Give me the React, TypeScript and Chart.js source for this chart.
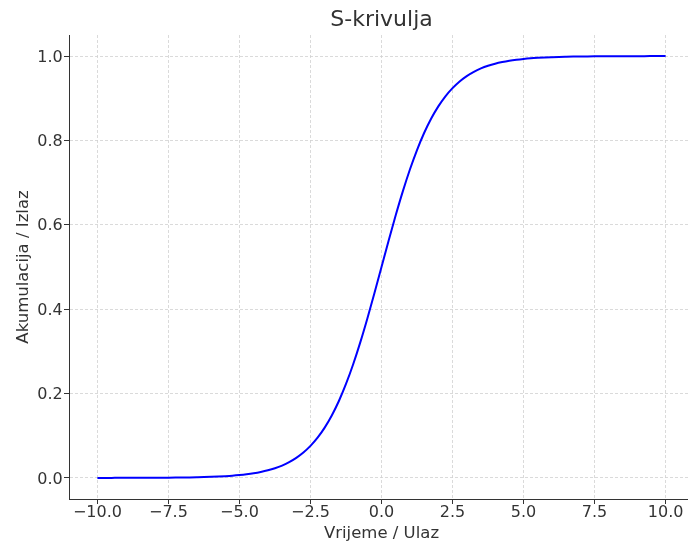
import React, { useEffect, useRef } from "react";
import { Chart, registerables } from "chart.js";

Chart.register(...registerables);

const titleText = "S-krivulja";
const xLabel = "Vrijeme / Ulaz";
const yLabel = "Akumulacija / Izlaz";

const xValues = [
  -10, -9.75, -9.5, -9.25, -9, -8.75, -8.5, -8.25, -8, -7.75, -7.5, -7.25, -7, -6.75, -6.5, -6.25,
  -6, -5.75, -5.5, -5.25, -5, -4.75, -4.5, -4.25, -4, -3.75, -3.5, -3.25, -3, -2.75, -2.5, -2.25,
  -2, -1.75, -1.5, -1.25, -1, -0.75, -0.5, -0.25, 0, 0.25, 0.5, 0.75, 1, 1.25, 1.5, 1.75, 2, 2.25,
  2.5, 2.75, 3, 3.25, 3.5, 3.75, 4, 4.25, 4.5, 4.75, 5, 5.25, 5.5, 5.75, 6, 6.25, 6.5, 6.75, 7,
  7.25, 7.5, 7.75, 8, 8.25, 8.5, 8.75, 9, 9.25, 9.5, 9.75, 10,
];
const yValues = [
  0.00005, 0.00006, 0.00007, 0.0001, 0.00012, 0.00016, 0.0002, 0.00026, 0.00034, 0.00043, 0.00055,
  0.00071, 0.00091, 0.00117, 0.0015, 0.0019, 0.0025, 0.0032, 0.0041, 0.0052, 0.0067, 0.0086, 0.011,
  0.0141, 0.018, 0.023, 0.0293, 0.0373, 0.0474, 0.0601, 0.0759, 0.0953, 0.1192, 0.148, 0.1824,
  0.2227, 0.2689, 0.3208, 0.3775, 0.4378, 0.5, 0.5622, 0.6225, 0.6792, 0.7311, 0.7773, 0.8176,
  0.852, 0.8808, 0.9047, 0.9241, 0.9399, 0.9526, 0.9627, 0.9707, 0.977, 0.982, 0.9859, 0.989,
  0.9914, 0.9933, 0.9948, 0.9959, 0.9968, 0.9975, 0.9981, 0.9985, 0.99883, 0.9991, 0.99929,
  0.99945, 0.99957, 0.99966, 0.99974, 0.9998, 0.99984, 0.99988, 0.9999, 0.99993, 0.99994, 0.99995,
];
const xTicks = [-10, -7.5, -5, -2.5, 0, 2.5, 5, 7.5, 10];
const yTicks = [0, 0.2, 0.4, 0.6, 0.8, 1.0];

const FONT = "'DejaVu Sans', 'Liberation Sans', sans-serif";
const TEXT = "#333333";
const GRID = "#d0d0d0";

export default function App() {
  const ref = useRef<HTMLCanvasElement | null>(null);

  useEffect(() => {
    if (!ref.current) return;
    Chart.defaults.font.family = FONT;
    const points = xValues.map((x, i) => ({ x, y: yValues[i] }));
    const chart = new Chart(ref.current, {
      type: "line",
      data: {
        datasets: [
          {
            data: points,
            borderColor: "#0000ff",
            borderWidth: 2,
            pointRadius: 0,
            fill: false,
            cubicInterpolationMode: "monotone",
          },
        ],
      },
      options: {
        animation: false,
        responsive: true,
        maintainAspectRatio: false,
        layout: { padding: 0 },
        plugins: {
          legend: { display: false },
          tooltip: { enabled: false },
          title: {
            display: true,
            text: titleText,
            fullSize: false,
            color: TEXT,
            font: { family: FONT, size: 22, weight: "normal", lineHeight: 1.2 },
            padding: { top: 7, bottom: 1.6 },
          },
        },
        scales: {
          x: {
            type: "linear",
            min: -11,
            max: 11,
            afterFit: (s: any) => {
              s.height = 45;
            },
            afterBuildTicks: (s: any) => {
              s.ticks = xTicks.map((v) => ({ value: v }));
            },
            ticks: {
              color: TEXT,
              font: { family: FONT, size: 16, lineHeight: 1 },
              padding: 1,
              maxRotation: 0,
              autoSkip: false,
              callback: (v: any) => Number(v).toFixed(1).replace("-", "\u2212"),
            },
            grid: {
              color: GRID,
              lineWidth: 0.8,
              tickLength: 5,
              tickColor: TEXT,
              tickWidth: 1,
              tickBorderDash: [],
            },
            border: { display: true, color: TEXT, width: 1, dash: [3, 2] },
            title: {
              display: true,
              text: xLabel,
              color: TEXT,
              font: { family: FONT, size: 16.5, lineHeight: 1.2 },
              padding: { top: 0, bottom: 0.3 },
            },
          },
          y: {
            type: "linear",
            min: -0.05,
            max: 1.05,
            afterFit: (s: any) => {
              s.width = 69;
            },
            afterBuildTicks: (s: any) => {
              s.ticks = yTicks.map((v) => ({ value: v }));
            },
            ticks: {
              color: TEXT,
              font: { family: FONT, size: 16, lineHeight: 1 },
              padding: 1.3,
              labelOffset: 1.5,
              autoSkip: false,
              callback: (v: any) => Number(v).toFixed(1),
            },
            grid: {
              color: GRID,
              lineWidth: 0.8,
              tickLength: 5,
              tickColor: TEXT,
              tickWidth: 1,
              tickBorderDash: [],
            },
            border: { display: true, color: TEXT, width: 1, dash: [3, 2] },
            title: {
              display: true,
              text: yLabel,
              color: TEXT,
              font: { family: FONT, size: 16.5, lineHeight: 1.2 },
              padding: { top: 14, bottom: 0 },
            },
          },
        },
      },
    });
    return () => chart.destroy();
  }, []);

  return (
    <div
      style={{
        position: "fixed",
        left: 0,
        top: 0,
        width: 688,
        height: 544,
        overflow: "hidden",
        background: "#ffffff",
      }}
    >
      <div style={{ position: "relative", width: 694, height: 544 }}>
        <canvas ref={ref} />
      </div>
    </div>
  );
}
